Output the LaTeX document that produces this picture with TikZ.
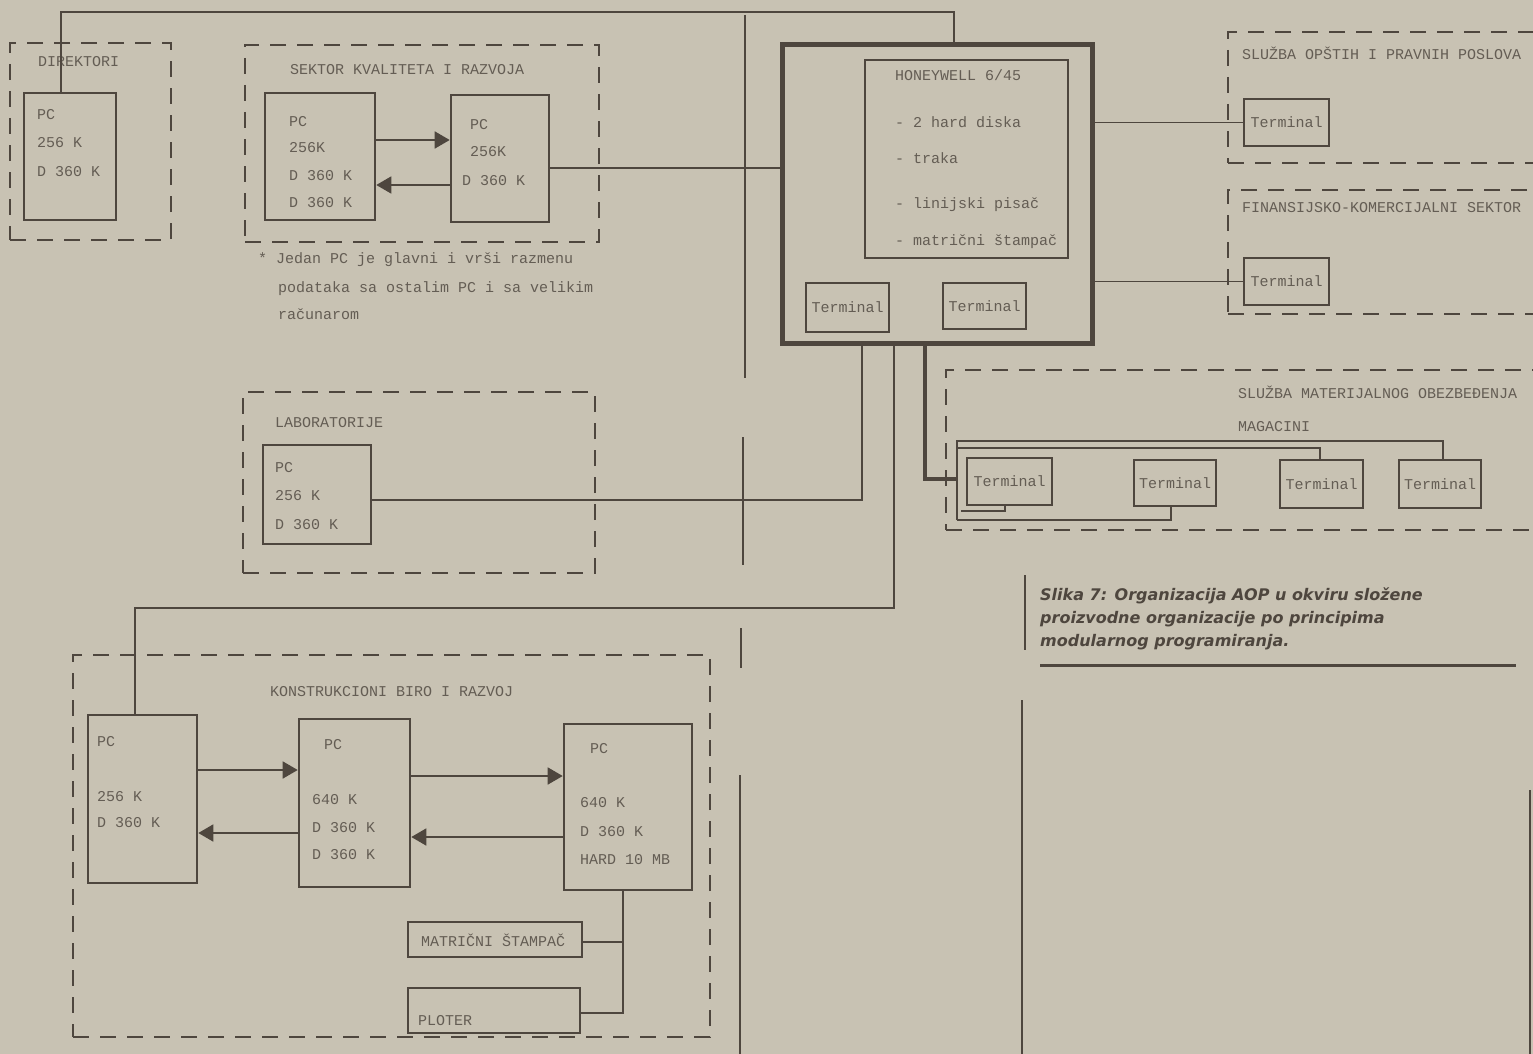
\documentclass[tikz,border=0pt]{standalone}
\usepackage{fontspec}
\setmainfont{Liberation Sans}
\newfontfamily\mono{Liberation Mono}
\newfontfamily\capfont{DejaVu Sans}
\usetikzlibrary{arrows.meta,fit}
\definecolor{bg}{RGB}{200,194,179}
\definecolor{ln}{RGB}{78,70,62}
\definecolor{tx}{RGB}{100,93,84}
\tikzset{
  box/.style={draw=ln,line width=2.6pt,inner sep=0pt,rectangle},
  hwbox/.style={draw=ln,line width=5pt,inner sep=0pt,rectangle},
  grp/.style={draw=ln,line width=2.2pt,dash pattern=on 16pt off 11pt,inner sep=0pt,rectangle},
  wire/.style={draw=ln,line width=1.7pt},
  thickwire/.style={draw=ln,line width=4.5pt},
  pagel/.style={draw=ln,line width=1.3pt},
  arr/.style={wire,-{Triangle[length=15pt,width=17pt]}},
  txt/.style={anchor=west,inner sep=0pt,text=tx,font=\mono\fontsize{15}{18}\selectfont},
  captxt/.style={anchor=north west,inner sep=0pt,text=ln,align=left,font=\capfont\bfseries\itshape\fontsize{16}{23}\selectfont}
}
\begin{document}
\begin{tikzpicture}[x=1pt,y=-1pt]
\useasboundingbox (0,0) rectangle (1533,1054);
\fill[bg] (0,0) rectangle (1533,1054);
\clip (0,0) rectangle (1533,1054);

% page column lines
\draw[pagel] (745,15) -- (745,378);
\draw[pagel] (743,437) -- (743,565);
\draw[pagel] (741,628) -- (741,668);
\draw[pagel] (740,775) -- (740,1054);
\draw[pagel] (1025,575) -- (1025,650);
\draw[pagel] (1022,700) -- (1022,1054);
\draw[pagel] (1530,790) -- (1530,1054);

% ---------- DIREKTORI ----------
\node[grp,fit={(10,43)(171,240)}] (gdir) {};
\node[txt] (ldir) at (38,62) {DIREKTORI};
\node[box,fit={(24,93)(116,220)}] (dpc) {};
\node[txt] (d1) at (37,115) {PC};
\node[txt] (d2) at (37,143) {256 K};
\node[txt] (d3) at (37,172) {D 360 K};

% ---------- SEKTOR KVALITETA ----------
\node[grp,fit={(245,45)(599,242)}] (gkv) {};
\node[txt] (lkv) at (290,70) {SEKTOR KVALITETA I RAZVOJA};
\node[box,fit={(265,93)(375,220)}] (kv1) {};
\node[txt] (k11) at (289,122) {PC};
\node[txt] (k12) at (289,148) {256K};
\node[txt] (k13) at (289,176) {D 360 K};
\node[txt] (k14) at (289,203) {D 360 K};
\node[box,fit={(451,95)(549,222)}] (kv2) {};
\node[txt] (k21) at (470,125) {PC};
\node[txt] (k22) at (470,152) {256K};
\node[txt] (k23) at (462,181) {D 360 K};
\draw[arr] (kv1.east |- 0,140) -- (kv2.west |- 0,140);
\draw[arr] (kv2.west |- 0,185) -- (kv1.east |- 0,185);
\node[txt] (fn1) at (258,260) {* Jedan PC je glavni i vrši razmenu};
\node[txt] (fn2) at (278,289) {podataka sa ostalim PC i sa velikim};
\node[txt] (fn3) at (278,314) {računarom};

% ---------- HONEYWELL ----------
\node[hwbox,fit={(782,45)(1092,343)}] (hw) {};
\node[box,fit={(865,60)(1068,258)}] (hwi) {};
\node[txt] (h0) at (895,75) {HONEYWELL 6/45};
\node[txt] (h1) at (895,122) {- 2 hard diska};
\node[txt] (h2) at (895,158) {- traka};
\node[txt] (h3) at (895,205) {- linijski pisač};
\node[txt] (h4) at (895,242) {- matrični štampač};
\node[box,fit={(806,283)(889,332)}] (hta) {};
\node[txt] (htat) at (hta.center) [anchor=center] {Terminal};
\node[box,fit={(943,283)(1026,329)}] (htb) {};
\node[txt] (htbt) at (htb.center) [anchor=center] {Terminal};

% ---------- SLUZBA OPSTIH ----------
\node[grp,fit={(1228,32)(1545,163)}] (gop) {};
\node[txt] (lop) at (1242,53) {SLUŽBA OPŠTIH I PRAVNIH POSLOVA};
\node[box,fit={(1244,99)(1329,146)}] (ot) {};
\node[txt] (ott) at (ot.center) [anchor=center] {Terminal};

% ---------- FINANSIJSKO ----------
\node[grp,fit={(1228,190)(1545,314)}] (gfi) {};
\node[txt] (lfi) at (1242,208) {FINANSIJSKO-KOMERCIJALNI SEKTOR};
\node[box,fit={(1244,258)(1329,305)}] (ft) {};
\node[txt] (ftt) at (ft.center) [anchor=center] {Terminal};

% ---------- MATERIJALNO ----------
\node[grp,fit={(946,370)(1545,530)}] (gma) {};
\node[txt] (lma) at (1238,392) {SLUŽBA MATERIJALNOG OBEZBEĐENJA};
\node[txt] (lmg) at (1238,427) {MAGACINI};
\node[box,fit={(967,458)(1052,505)}] (m1) {};
\node[txt] (m1t) at (m1.center) [anchor=center] {Terminal};
\node[box,fit={(1134,460)(1216,506)}] (m2) {};
\node[txt] (m2t) at (m2.center) [anchor=center] {Terminal};
\node[box,fit={(1280,460)(1363,508)}] (m3) {};
\node[txt] (m3t) at (m3.center) [anchor=center] {Terminal};
\node[box,fit={(1399,460)(1481,508)}] (m4) {};
\node[txt] (m4t) at (m4.center) [anchor=center] {Terminal};
\coordinate (mbl) at (957,441);
\coordinate (mbb) at (957,520);
\draw[wire] (mbb) -- (mbl) -- (1443,441) -- (1443,0 |- m4.north);
\draw[wire] (957,448) -- (1320,448) -- (1320,0 |- m3.north);
\draw[wire] (mbb) -- (1171,520) -- (1171,0 |- m2.south);
\draw[wire] (961,511) -- (1005,511) -- (1005,0 |- m1.south);

% ---------- LABORATORIJE ----------
\node[grp,fit={(243,392)(595,573)}] (gla) {};
\node[txt] (lla) at (275,423) {LABORATORIJE};
\node[box,fit={(263,445)(371,544)}] (lpc) {};
\node[txt] (l1) at (275,468) {PC};
\node[txt] (l2) at (275,496) {256 K};
\node[txt] (l3) at (275,525) {D 360 K};

% ---------- KONSTRUKCIONI ----------
\node[grp,fit={(73,655)(710,1037)}] (gko) {};
\node[txt] (lko) at (270,692) {KONSTRUKCIONI BIRO I RAZVOJ};
\node[box,fit={(88,715)(197,883)}] (kb1) {};
\node[txt] (b11) at (97,742) {PC};
\node[txt] (b12) at (97,797) {256 K};
\node[txt] (b13) at (97,823) {D 360 K};
\node[box,fit={(299,719)(410,887)}] (kb2) {};
\node[txt] (b21) at (324,745) {PC};
\node[txt] (b22) at (312,800) {640 K};
\node[txt] (b23) at (312,828) {D 360 K};
\node[txt] (b24) at (312,855) {D 360 K};
\node[box,fit={(564,724)(692,890)}] (kb3) {};
\node[txt] (b31) at (590,749) {PC};
\node[txt] (b32) at (580,803) {640 K};
\node[txt] (b33) at (580,832) {D 360 K};
\node[txt] (b34) at (580,860) {HARD 10 MB};
\draw[arr] (kb1.east |- 0,770) -- (kb2.west |- 0,770);
\draw[arr] (kb2.west |- 0,833) -- (kb1.east |- 0,833);
\draw[arr] (kb2.east |- 0,776) -- (kb3.west |- 0,776);
\draw[arr] (kb3.west |- 0,837) -- (kb2.east |- 0,837);
\node[box,fit={(408,922)(582,957)}] (mat) {};
\node[txt] (matt) at (421,940) {MATRIČNI ŠTAMPAČ};
\node[box,fit={(408,988)(580,1033)}] (plo) {};
\node[txt] (plot) at (418,1021) {PLOTER};
\draw[wire] (623,0 |- kb3.south) -- (623,1013) -- (plo.east |- 0,1013);
\draw[wire] (623,942) -- (mat.east |- 0,942);

% ---------- connections to Honeywell ----------
\draw[wire] (61,0 |- dpc.north) -- (61,12) -- (954,12) -- (954,0 |- hw.north);
\draw[wire] (kv2.east |- 0,168) -- (hw.west |- 0,168);
\draw[wire] (hw.east |- ot.west) -- (ot.west);
\draw[wire] (hw.east |- ft.west) -- (ft.west);
\draw[wire] (862,0 |- hw.south) -- (862,500) -- (lpc.east |- 0,500);
\draw[wire] (894,0 |- hw.south) -- (894,608) -- (135,608) -- (135,0 |- kb1.north);
\draw[thickwire] (925,0 |- hw.south) -- (925,479) -- (957,479);

% ---------- caption ----------
\node[captxt] (capt) at (1040,587) {Slika 7: Organizacija AOP u okviru složene\\proizvodne organizacije po principima\\modularnog programiranja.};
\coordinate (rl) at (1040,665);
\coordinate (rr) at (1516,665);
\draw[draw=ln,line width=3pt] (rl) -- (rr);
\end{tikzpicture}
\end{document}
